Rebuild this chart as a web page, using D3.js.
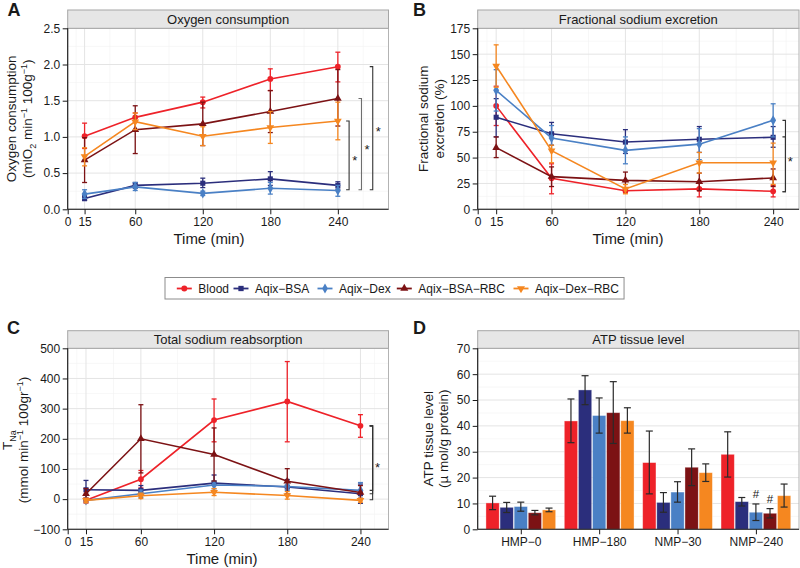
<!DOCTYPE html>
<html><head><meta charset="utf-8">
<script src="https://cdn.jsdelivr.net/npm/d3@7"></script>
<style>body{margin:0;background:#fff} text{font-family:"Liberation Sans",Arial,Helvetica,sans-serif}</style>
</head><body><svg id="c" width="800" height="568"></svg>
<script>
// ---------- DATA ----------
const groups = ["Blood","Aqix−BSA","Aqix−Dex","Aqix−BSA−RBC","Aqix−Dex−RBC"];
const times = [15,60,120,180,240];
const timeTicks = [0,15,60,120,180,240];

// A: Oxygen consumption (rows follow groups)
const o2Mean = [[1.01,1.27,1.48,1.80,1.97],[0.15,0.33,0.36,0.42,0.33],[0.21,0.31,0.22,0.29,0.26],[0.68,1.10,1.18,1.35,1.53],[0.73,1.21,1.01,1.13,1.22]];
const o2Hi   = [[1.19,1.33,1.55,1.94,2.17],[0.19,0.37,0.43,0.52,0.38],[0.27,0.37,0.25,0.37,0.33],[0.99,1.43,1.48,1.64,1.93],[0.85,1.33,1.14,1.35,1.48]];
const o2Lo   = [[0.84,1.20,1.40,1.64,1.76],[0.12,0.29,0.30,0.33,0.28],[0.15,0.26,0.19,0.21,0.18],[0.37,0.77,0.88,1.06,1.15],[0.60,1.10,0.88,0.91,0.96]];
const o2Ticks = [0,0.5,1.0,1.5,2.0,2.5];
const o2BracketX = [250,261,271];
const o2BracketTop = [1.22,1.53,1.97];
const o2BracketBottom = [0.27,0.27,0.27];

// B: Fractional sodium excretion
const feMean = [[100,30,18,19.7,17.4],[89,73,65,67.7,69.6],[115,69,57,63,86],[59.6,31.6,28,26.7,30.3],[138.6,56.7,19.7,45,45]];
const feHi   = [[119,44,20,27,23],[107,84,77,80,80],[135,81,70,78,102],[70,41,36,35,39],[159,62,24,55,64]];
const feLo   = [[81,15,16,12,12],[70,62,54,55,60],[95,57,44,48,70],[50,22,20,18,22],[118,45,15,35,24]];
const feTicks = [0,25,50,75,100,125,150,175];
const feBracketX = [250,250];
const feBracketTop = [86,70];
const feBracketBottom = [17,17];

// C: Total sodium reabsorption
const tnaMean = [[-4,66,262,324,243],[31,29,53,40,18],[-4,18,47,42,29],[18,200,148,59,22],[-4,11,23,12,-4]];
const tnaHi   = [[5,95,332,456,280],[62,45,80,65,50],[3,30,60,55,55],[35,313,236,101,45],[3,20,35,25,3]];
const tnaLo   = [[-13,37,190,190,205],[0,13,26,15,-14],[-11,6,34,29,3],[1,87,60,17,-1],[-11,2,12,0,-10]];
const tnaTicks = [-100,0,100,200,300,400,500];
const tnaBracketX = [250,250,250];
const tnaBracketTop = [243,243,243];
const tnaBracketBottom = [-2,18,29];

// D: ATP tissue level (rows follow stages, columns follow groups)
const stages = ["HMP−0","HMP−180","NMP−30","NMP−240"];
const atpMean = [[10.2,8.5,8.8,6.4,7.5],[41.9,53.9,44.0,45.1,42.0],[25.8,10.4,14.4,24.0,21.9],[29.0,10.7,6.6,6.2,13.0]];
const atpHi   = [[12.8,10.4,10.5,7.3,8.2],[50.4,59.4,50.8,57.1,47.0],[38.0,14.2,18.4,31.1,25.3],[37.7,12.3,9.8,8.0,17.5]];
const atpLo   = [[7.6,6.5,7.0,5.6,6.8],[33.5,48.2,37.2,33.2,37.2],[13.7,6.6,10.5,16.9,18.5],[20.2,9.0,3.4,4.4,8.6]];
const atpTicks = [0,10,20,30,40,50,60,70];
const atpMarks = [{stage:"NMP−240", group:"Aqix−Dex", label:"#"},{stage:"NMP−240", group:"Aqix−BSA−RBC", label:"#"}];

// ---------- STYLE ----------
const colors = ["#ee2229","#2b2e7c","#4a80c5","#7c1214","#f58720"];
const symbols = [d3.symbolCircle, d3.symbolSquare, d3.symbolDiamond, d3.symbolTriangle, d3.symbolTriangle];
const symRot = [0,0,0,0,180];
const svg = d3.select("#c");

function gridAndFrame(p, x, y, yTicks, xMajor, xMinor){
  const g = svg.append("g");
  const yMinor = yTicks.slice(0,-1).map((t,i)=>(t+yTicks[i+1])/2);
  g.selectAll(".hm").data(yMinor).enter().append("line")
    .attr("x1",p.x0).attr("x2",p.x1).attr("y1",d=>y(d)).attr("y2",d=>y(d))
    .attr("stroke","#f2f2f2").attr("stroke-width",0.6);
  if (xMinor) g.selectAll(".vm").data(xMinor).enter().append("line")
    .attr("y1",p.y0).attr("y2",p.y1).attr("x1",d=>x(d)).attr("x2",d=>x(d))
    .attr("stroke","#f2f2f2").attr("stroke-width",0.6);
  g.selectAll(".hM").data(yTicks).enter().append("line")
    .attr("x1",p.x0).attr("x2",p.x1).attr("y1",d=>y(d)).attr("y2",d=>y(d))
    .attr("stroke","#e4e4e4").attr("stroke-width",1);
  if (xMajor) g.selectAll(".vM").data(xMajor).enter().append("line")
    .attr("y1",p.y0).attr("y2",p.y1).attr("x1",d=>x(d)).attr("x2",d=>x(d))
    .attr("stroke","#e4e4e4").attr("stroke-width",1);
  g.append("rect").attr("x",p.x0).attr("y",p.y0).attr("width",p.x1-p.x0).attr("height",p.y1-p.y0)
    .attr("fill","none").attr("stroke","#b3b3b3").attr("stroke-width",1);
  g.append("rect").attr("x",p.x0).attr("y",p.sy).attr("width",p.x1-p.x0).attr("height",p.y0-p.sy)
    .attr("fill","#e6e6e6").attr("stroke","#a6a6a6").attr("stroke-width",1);
  g.append("text").attr("x",(p.x0+p.x1)/2).attr("y",(p.sy+p.y0)/2+4.6).attr("text-anchor","middle")
    .attr("font-size",13).attr("fill","#1a1a1a").text(p.title);
  svg.append("text").attr("x",p.lx).attr("y",p.ly).attr("font-size",18).attr("font-weight","bold")
    .attr("fill","#1a1a1a").text(p.letter);
}

function axes(p, x, y, yTicks, yFmt, xTicksArr, xIsBand){
  const ya = svg.append("g").attr("transform",`translate(${p.x0},0)`)
    .call(d3.axisLeft(y).tickValues(yTicks).tickFormat(yFmt).tickSize(5).tickPadding(2.5).tickSizeOuter(0));
  const xa = svg.append("g").attr("transform",`translate(0,${p.y1})`)
    .call((xIsBand? d3.axisBottom(x) : d3.axisBottom(x).tickValues(xTicksArr).tickFormat(d3.format("d")))
      .tickSize(5).tickPadding(3).tickSizeOuter(0));
  [ya,xa].forEach(a=>{
    a.selectAll("text").attr("font-size",12).attr("fill","#1a1a1a").attr("font-family",'"Liberation Sans",Arial,sans-serif');
    a.selectAll("line").attr("stroke","#1a1a1a");
    a.select(".domain").attr("stroke","#1a1a1a").attr("stroke-width",1.1);
  });
  xa.select(".domain").attr("d",`M${p.x0},0H${p.x1}`);
  ya.select(".domain").attr("d",`M0,${p.y1}V${p.y0}`);
}

function yTitle(lines, xs, yc){
  lines.forEach((ln,i)=>{
    const t = svg.append("text").attr("transform",`translate(${xs[i]},${yc}) rotate(-90)`)
      .attr("text-anchor","middle").attr("font-size",13.5).attr("fill","#1a1a1a");
    ln.forEach(seg=>{
      const ts = t.append("tspan").text(seg.t);
      if (seg.s==="sup") ts.attr("font-size",9).attr("dy",-5);
      else if (seg.s==="sub") ts.attr("font-size",9).attr("dy",4);
      else if (seg.s==="back") ts.attr("dy",seg.dy);
    });
  });
}

function linePanel(p, mean, hi, lo, yTicks, yFmt, bx, btop, bbot, starY){
  const x = d3.scaleLinear().domain([0,p.xmax]).range([p.x0,p.x1]);
  const y = d3.scaleLinear().domain([yTicks[0], yTicks[yTicks.length-1]]).range([p.y1,p.y0]);
  const xMajor = timeTicks.slice(1);
  const xMinor = [7.5,37.5,90,150,210,(240+p.xmax)/2];
  gridAndFrame(p,x,y,yTicks,xMajor,xMinor);
  const g = svg.append("g");
  groups.forEach((grp,gi)=>{
    const pts = times.map((t,i)=>({t, m:mean[gi][i], h:hi[gi][i], l:lo[gi][i]}));
    const c = colors[gi];
    const eg = g.append("g").attr("stroke",c).attr("stroke-width",1.3);
    pts.forEach(d=>{
      eg.append("line").attr("x1",x(d.t)).attr("x2",x(d.t)).attr("y1",y(d.h)).attr("y2",y(d.l));
      eg.append("line").attr("x1",x(d.t)-2.5).attr("x2",x(d.t)+2.5).attr("y1",y(d.h)).attr("y2",y(d.h));
      eg.append("line").attr("x1",x(d.t)-2.5).attr("x2",x(d.t)+2.5).attr("y1",y(d.l)).attr("y2",y(d.l));
    });
    g.append("path").datum(pts).attr("fill","none").attr("stroke",c).attr("stroke-width",1.6)
      .attr("d",d3.line().x(d=>x(d.t)).y(d=>y(d.m)));
    g.selectAll(null).data(pts).enter().append("path")
      .attr("transform",d=>`translate(${x(d.t)},${y(d.m)}) rotate(${symRot[gi]})`)
      .attr("d",d3.symbol().type(symbols[gi]).size(gi===2?30:26)).attr("fill",c);
  });
  const bg = svg.append("g").attr("fill","none");
  bx.forEach((b,i)=>{
    const xx = x(b);
    bg.append("path").attr("d",`M${xx-3},${y(btop[i])}H${xx}V${y(bbot[i])}H${xx-3}`)
      .attr("stroke", i===1 && p.letter==="A" ? "#6e6e6e" : "#333").attr("stroke-width",1.1);
  });
  starY.forEach(s=>{
    svg.append("text").attr("x",x(s.x)).attr("y",y(s.y)+8).attr("text-anchor","middle")
      .attr("font-size",13).attr("fill","#1a1a1a").text("*");
  });
  axes(p,x,y,yTicks,yFmt,timeTicks,false);
}

// ---------- PANEL A ----------
const pA = {x0:67.7,x1:388.5,y0:28.3,y1:209.3,sy:10,xmax:285,title:"Oxygen consumption",letter:"A",lx:7.5,ly:15.5};
linePanel(pA,o2Mean,o2Hi,o2Lo,o2Ticks,d3.format(".1f"),o2BracketX,o2BracketTop,o2BracketBottom,
  [{x:255,y:0.72},{x:266,y:0.88},{x:276,y:1.12}]);
yTitle([[{t:"Oxygen consumption"}],[{t:"(mlO"},{t:"2",s:"sub"},{t:" min",s:"back",dy:-4},{t:"−1",s:"sup"},{t:" 100g",s:"back",dy:5},{t:"−1",s:"sup"},{t:")",s:"back",dy:5}]],[16,32],118.8);
svg.append("text").attr("x",209).attr("y",243.5).attr("text-anchor","middle").attr("font-size",15).attr("fill","#1a1a1a").text("Time (min)");

// ---------- PANEL B ----------
const pB = {x0:477.7,x1:799,y0:28.3,y1:209.3,sy:10,xmax:261,title:"Fractional sodium excretion",letter:"B",lx:413,ly:15.5};
linePanel(pB,feMean,feHi,feLo,feTicks,d3.format("d"),feBracketX,feBracketTop,feBracketBottom,
  [{x:254,y:50}]);
yTitle([[{t:"Fractional sodium"}],[{t:"excretion (%)"}]],[427.5,443.5],118.8);
svg.append("text").attr("x",628).attr("y",243.5).attr("text-anchor","middle").attr("font-size",15).attr("fill","#1a1a1a").text("Time (min)");

// ---------- PANEL C ----------
const pC = {x0:67.7,x1:388.5,y0:348.3,y1:529.3,sy:330.7,xmax:263,title:"Total sodium reabsorption",letter:"C",lx:7,ly:334};
linePanel(pC,tnaMean,tnaHi,tnaLo,tnaTicks,d3.format("d"),tnaBracketX,tnaBracketTop,tnaBracketBottom,
  [{x:254,y:115}]);
yTitle([[{t:"T"},{t:"Na",s:"sub"}],[{t:"(mmol min"},{t:"−1",s:"sup"},{t:" 100gr",s:"back",dy:5},{t:"−1",s:"sup"},{t:")",s:"back",dy:5}]],[12,28],440);
svg.append("text").attr("x",222).attr("y",563.5).attr("text-anchor","middle").attr("font-size",15).attr("fill","#1a1a1a").text("Time (min)");

// ---------- PANEL D ----------
const pD = {x0:477.7,x1:799,y0:348.3,y1:529.3,sy:330.7,title:"ATP tissue level",letter:"D",lx:413,ly:334};
(function(){
  const p = pD;
  const x = d3.scalePoint().domain(stages).range([p.x0,p.x1]).padding(0.55);
  const step = x.step();
  const xb = d3.scaleBand().domain(groups).range([-step*0.45, step*0.45]).padding(0);
  const y = d3.scaleLinear().domain([0,70]).range([p.y1,p.y0]);
  gridAndFrame(p,x,y,atpTicks,null,null);
  const g = svg.append("g");
  stages.forEach((s,si)=>{
    groups.forEach((grp,gi)=>{
      const cx = x(s)+xb(grp);
      g.append("rect").attr("x",cx+0.4).attr("width",xb.bandwidth()-0.8)
        .attr("y",y(atpMean[si][gi])).attr("height",y(0)-y(atpMean[si][gi]))
        .attr("fill",colors[gi]).attr("stroke","#ffffff").attr("stroke-opacity",0.45).attr("stroke-width",0.8);
    });
  });
  stages.forEach((s,si)=>{
    groups.forEach((grp,gi)=>{
      const cx = x(s)+xb(grp)+xb.bandwidth()/2;
      const e = g.append("g").attr("stroke","#2a2a2a").attr("stroke-width",1.2);
      e.append("line").attr("x1",cx).attr("x2",cx).attr("y1",y(atpHi[si][gi])).attr("y2",y(atpLo[si][gi]));
      e.append("line").attr("x1",cx-3.5).attr("x2",cx+3.5).attr("y1",y(atpHi[si][gi])).attr("y2",y(atpHi[si][gi]));
      e.append("line").attr("x1",cx-3.5).attr("x2",cx+3.5).attr("y1",y(atpLo[si][gi])).attr("y2",y(atpLo[si][gi]));
    });
  });
  atpMarks.forEach(m=>{
    const si = stages.indexOf(m.stage), gi = groups.indexOf(m.group);
    svg.append("text").attr("x",x(m.stage)+xb(m.group)+xb.bandwidth()/2).attr("y",y(atpHi[si][gi])-6)
      .attr("text-anchor","middle").attr("font-size",11.5).attr("fill","#1a1a1a").text(m.label);
  });
  axes(p,x,y,atpTicks,d3.format("d"),null,true);
})();
yTitle([[{t:"ATP tissue level"}],[{t:"(µ mol/g protein)"}]],[432.5,447.5],438.8);

// ---------- LEGEND ----------
(function(){
  const legendTextX = [198.3, 255, 339, 418.3, 535];
  const lg = svg.append("g");
  const box = lg.append("rect").attr("x",165).attr("y",277.5).attr("height",21.5)
    .attr("fill","#fff").attr("stroke","#8c8c8c").attr("stroke-width",1);
  let end = 0;
  groups.forEach((grp,gi)=>{
    const tx = legendTextX[gi], cx = tx - 21.5;
    lg.append("line").attr("x1",cx).attr("x2",cx+15).attr("y1",288.5).attr("y2",288.5)
      .attr("stroke",colors[gi]).attr("stroke-width",1.8);
    lg.append("path").attr("transform",`translate(${cx+7.5},288.5) rotate(${symRot[gi]})`)
      .attr("d",d3.symbol().type(symbols[gi]).size(28)).attr("fill",colors[gi]);
    const t = lg.append("text").attr("x",tx).attr("y",292.8).attr("font-size",12).attr("fill","#1a1a1a").text(grp);
    end = tx + t.node().getComputedTextLength();
  });
  box.attr("width", end - 165 + 5);
})();
</script></body></html>
